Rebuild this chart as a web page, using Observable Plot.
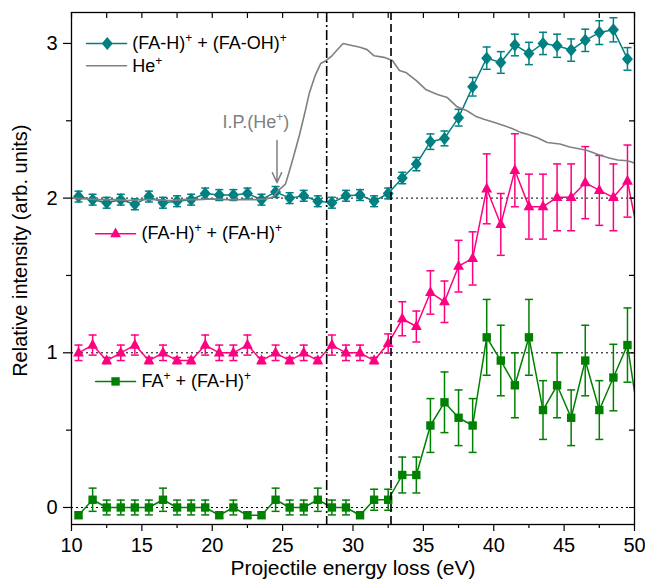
<!DOCTYPE html>
<html><head><meta charset="utf-8">
<script src="https://cdn.jsdelivr.net/npm/d3@7"></script>
<script src="https://cdn.jsdelivr.net/npm/@observablehq/plot@0.6"></script>
<style>
body{margin:0;background:#fff;}
#chart svg{font-family:"Liberation Sans",Arial,sans-serif;}
</style></head><body><div id="chart"></div>
<script>
// ---------- data ----------
const energy = [10.5, 11.5, 12.5, 13.5, 14.5, 15.5, 16.5, 17.5, 18.5, 19.5,
  20.5, 21.5, 22.5, 23.5, 24.5, 25.5, 26.5, 27.5, 28.5, 29.5,
  30.5, 31.5, 32.5, 33.5, 34.5, 35.5, 36.5, 37.5, 38.5, 39.5,
  40.5, 41.5, 42.5, 43.5, 44.5, 45.5, 46.5, 47.5, 48.5, 49.5, 50.5];

const faH_faOH = [2.01, 1.99, 1.97, 1.99, 1.96, 2.01, 1.97, 1.98, 1.99, 2.03,
  2.02, 2.02, 2.03, 1.99, 2.04, 2.0, 2.015, 1.98, 1.97, 2.015,
  2.02, 1.98, 2.03, 2.13, 2.22, 2.365, 2.386, 2.52, 2.72, 2.905,
  2.877, 2.99, 2.935, 3.0, 2.985, 2.957, 3.02, 3.07, 3.088, 2.9, null];
const faH_faOH_err = [0.035, 0.035, 0.035, 0.035, 0.035, 0.035, 0.035, 0.035, 0.035, 0.035,
  0.035, 0.035, 0.035, 0.035, 0.035, 0.035, 0.035, 0.035, 0.035, 0.035,
  0.035, 0.035, 0.035, 0.037, 0.043, 0.05, 0.048, 0.054, 0.06, 0.072,
  0.07, 0.07, 0.072, 0.072, 0.075, 0.072, 0.072, 0.077, 0.078, 0.073, null];

const faH_faH = [1.0, 1.05, 0.95, 1.0, 1.05, 0.95, 1.0, 0.95, 0.95, 1.05,
  1.0, 1.0, 1.05, 0.95, 1.0, 0.95, 1.0, 0.95, 1.05, 1.0,
  1.0, 0.95, 1.06, 1.22, 1.17, 1.39, 1.33, 1.56, 1.61, 2.06,
  1.83, 2.18, 1.945, 1.945, 2.005, 2.005, 2.10, 2.05, 2.005, 2.11, 1.65];
const faH_faH_err = [0.05, 0.065, 0.02, 0.05, 0.065, 0.02, 0.05, 0.02, 0.02, 0.065,
  0.05, 0.05, 0.065, 0.02, 0.05, 0.02, 0.05, 0.02, 0.065, 0.05,
  0.05, 0.02, 0.062, 0.11, 0.1, 0.14, 0.134, 0.167, 0.172, 0.226,
  0.2, 0.236, 0.21, 0.21, 0.216, 0.216, 0.233, 0.226, 0.216, 0.233, 0.2];

const fa_faH = [-0.05, 0.05, 0, 0, 0, 0, 0.05, 0, 0, 0,
  -0.05, 0, -0.05, -0.05, 0.05, 0, 0, 0.05, 0, 0,
  -0.05, 0.05, 0.05, 0.21, 0.21, 0.53, 0.68, 0.58, 0.53, 1.1,
  0.95, 0.79, 1.1, 0.63, 0.79, 0.58, 0.95, 0.63, 0.84, 1.05, 0.45];
const fa_faH_err = [0.02, 0.075, 0.048, 0.048, 0.048, 0.048, 0.075, 0.048, 0.048, 0.048,
  0.02, 0.048, 0.02, 0.02, 0.075, 0.048, 0.048, 0.075, 0.048, 0.048,
  0.02, 0.068, 0.068, 0.116, 0.116, 0.174, 0.196, 0.18, 0.174, 0.245,
  0.228, 0.21, 0.245, 0.19, 0.21, 0.18, 0.228, 0.19, 0.215, 0.24, 0.16];

const heEnergy = [10.0, 11.0, 12.0, 13.0, 14.0, 15.0, 16.0, 17.0, 18.0, 19.0, 20.0, 21.0, 22.0, 23.0,
  23.8, 24.3, 24.7, 25.2, 25.5, 25.9, 26.2, 26.6, 26.9, 27.3, 27.7, 28.1, 28.5, 29.0, 29.3, 30.0,
  30.5, 31.0, 31.5, 32.2, 32.8, 33.3, 33.8, 34.5, 35.2, 36.0, 36.7, 37.4, 38.1, 38.7, 39.3,
  40.0, 40.7, 41.3, 41.9, 42.5, 43.1, 43.8, 44.7, 45.4, 46.6, 47.6, 48.2, 48.8, 49.5, 50.0];
const heSignal = [2.0, 1.995, 1.99, 1.99, 1.985, 1.99, 1.99, 1.985, 1.99, 1.99, 1.995, 1.99, 1.99, 1.99,
  1.995, 2.005, 2.05, 2.09, 2.18, 2.31, 2.41, 2.56, 2.68, 2.79, 2.87, 2.89, 2.92, 2.97, 3.0, 2.985,
  2.975, 2.96, 2.92, 2.91, 2.89, 2.825, 2.81, 2.76, 2.70, 2.67, 2.65, 2.59, 2.565, 2.53, 2.51,
  2.49, 2.47, 2.45, 2.425, 2.41, 2.39, 2.36, 2.35, 2.33, 2.31, 2.275, 2.26, 2.246, 2.242, 2.227];

const seriesLabels = ["(FA-H)^+ + (FA-OH)^+", "He^+", "(FA-H)^+ + (FA-H)^+", "FA^+ + (FA-H)^+"];
const baselines = [0, 1, 2];
const thresholds = [28.13, 32.7];
const ipEnergy = 24.6;
const ipLabel = "I.P.(He^+)";
const xTicks = [10, 15, 20, 25, 30, 35, 40, 45, 50];
const xMinorTicks = [12.5, 17.5, 22.5, 27.5, 32.5, 37.5, 42.5, 47.5];
const yTicks = [0, 1, 2, 3];
const yMinorTicks = [0.5, 1.5, 2.5];
const xTitle = "Projectile energy loss (eV)";
const yTitle = "Relative intensity (arb. units)";

// ---------- styles ----------
const TEAL = "#008080", PINK = "#ff0080", GREEN = "#008000", GRAY = "#808080";

const rows = (vals, errs) => energy.map((x, i) => ({x, y: vals[i], e: errs[i]})).filter(d => d.y != null);
const tealRows = rows(faH_faOH, faH_faOH_err);
const pinkRows = rows(faH_faH, faH_faH_err);
const greenRows = rows(fa_faH, fa_faH_err);
const heRows = heEnergy.map((x, i) => ({x, y: heSignal[i]}));

const capSym = {draw(c) { c.moveTo(-4, 0); c.lineTo(4, 0); }};
const diamondSym = {draw(c) { c.moveTo(0, -6.5); c.lineTo(5.5, 0); c.lineTo(0, 6.5); c.lineTo(-5.5, 0); c.closePath(); }};
const triSym = {draw(c) { c.moveTo(0, -6.3); c.lineTo(5.4, 3.6); c.lineTo(-5.4, 3.6); c.closePath(); }};
const squareSym = {draw(c) { c.rect(-4.2, -4.2, 8.4, 8.4); }};
const plainTick = {draw(c, l) { c.moveTo(0, 0); c.lineTo(0, -l); }};

function seriesMarks(data, color, sym) {
  return [
    Plot.ruleX(data, {x: "x", y1: d => d.y - d.e, y2: d => d.y + d.e, stroke: color, strokeWidth: 1.5, clip: true}),
    Plot.dot(data, {x: "x", y: d => d.y - d.e, symbol: capSym, stroke: color, fill: "none", strokeWidth: 1.5, clip: true}),
    Plot.dot(data, {x: "x", y: d => d.y + d.e, symbol: capSym, stroke: color, fill: "none", strokeWidth: 1.5, clip: true}),
    Plot.line(data, {x: "x", y: "y", stroke: color, strokeWidth: 1.5, clip: true}),
    Plot.dot(data, {x: "x", y: "y", symbol: sym, fill: color, stroke: "none", clip: true})
  ];
}

function legendEntry(label, color, sym, x1, x2, xm, xt, y) {
  const m = [
    Plot.line([[x1, y], [x2, y]], {stroke: color, strokeWidth: 1.5}),
    Plot.text([label], {x: xt, y: y, text: d => d, textAnchor: "start", fontSize: 18, fill: "black"})
  ];
  if (sym) m.push(Plot.dot([[xm, y]], {symbol: sym, fill: color, stroke: "none"}));
  return m;
}

const chart = Plot.plot({
  width: 645, height: 582,
  marginLeft: 71, marginRight: 11, marginTop: 12, marginBottom: 58,
  style: {fontSize: "20px", fontFamily: '"Liberation Sans", Arial, sans-serif', color: "black", background: "white"},
  x: {domain: [10, 50]},
  y: {domain: [-0.11, 3.2]},
  marks: [
    Plot.ruleY(baselines, {stroke: "black", strokeWidth: 1, strokeDasharray: "2,3"}),
    ...seriesMarks(greenRows, GREEN, squareSym),
    ...seriesMarks(pinkRows, PINK, triSym),
    ...seriesMarks(tealRows, TEAL, diamondSym),
    Plot.line(heRows, {x: "x", y: "y", stroke: GRAY, strokeWidth: 1.6, clip: true}),
    Plot.ruleX([thresholds[0]], {stroke: "black", strokeWidth: 1.6, strokeDasharray: "10,3,2,3"}),
    Plot.ruleX([thresholds[1]], {stroke: "black", strokeWidth: 1.6, strokeDasharray: "8,4"}),
    // legend
    ...legendEntry(seriesLabels[0], TEAL, diamondSym, 11.07, 13.91, 12.54, 14.31, 3.0),
    ...legendEntry(seriesLabels[1], GRAY, null, 11.07, 13.91, 12.54, 14.31, 2.855),
    ...legendEntry(seriesLabels[2], PINK, triSym, 11.71, 14.55, 13.13, 14.97, 1.77),
    ...legendEntry(seriesLabels[3], GREEN, squareSym, 11.71, 14.55, 13.13, 14.97, 0.815),
    // annotation
    Plot.text([ipLabel], {x: 20.73, y: 2.49, text: d => d, textAnchor: "start", fontSize: 18, fill: GRAY}),
    Plot.arrow([ipEnergy], {x1: d => d, x2: d => d, y1: 2.372, y2: 2.1, stroke: GRAY, strokeWidth: 1.5, headLength: 11, headAngle: 50}),
    // frame & axes
    Plot.frame({stroke: "black", strokeWidth: 1.3}),
    Plot.axisX({ticks: xTicks, tickSize: 7, tickPadding: 6, tickFormat: d => String(d), label: null, strokeWidth: 1.2}),
    Plot.axisX({ticks: xMinorTicks, tickSize: 4, tickFormat: () => "", label: null, strokeWidth: 1.2}),
    Plot.axisY({ticks: yTicks, tickSize: 8, tickPadding: 6, tickFormat: d => String(d), label: null, strokeWidth: 1.2}),
    Plot.axisY({ticks: yMinorTicks, tickSize: 5, tickFormat: () => "", label: null, strokeWidth: 1.2}),
    Plot.vector(xTicks.concat(xMinorTicks), {x: d => d, frameAnchor: "top", length: 5, rotate: 180, anchor: "start", shape: plainTick, stroke: "black", strokeWidth: 1.2}),
    Plot.vector(yTicks.concat(yMinorTicks), {y: d => d, frameAnchor: "right", length: 5, rotate: 270, anchor: "start", shape: plainTick, stroke: "black", strokeWidth: 1.2}),
    Plot.text([xTitle], {frameAnchor: "bottom", dy: 44, text: d => d, fontSize: 21, fill: "black", textAnchor: "middle", lineAnchor: "middle"}),
    Plot.text([yTitle], {frameAnchor: "left", y: 1.66, dx: -51, rotate: -90, text: d => d, fontSize: 20, fill: "black", textAnchor: "middle", lineAnchor: "middle"})
  ]
});

// superscripts: "^+" -> raised small plus
const NS = "http://www.w3.org/2000/svg";
chart.querySelectorAll("text").forEach(t => {
  const s = t.textContent;
  if (!s.includes("^+")) return;
  while (t.firstChild) t.removeChild(t.firstChild);
  let raised = false;
  s.split(/(\^\+)/).forEach(part => {
    if (!part) return;
    const ts = document.createElementNS(NS, "tspan");
    if (part === "^+") {
      ts.textContent = "+";
      ts.setAttribute("font-size", "12");
      ts.setAttribute("dy", "-7");
      raised = true;
    } else {
      ts.textContent = part;
      if (raised) { ts.setAttribute("dy", "7"); raised = false; }
    }
    t.appendChild(ts);
  });
});

document.getElementById("chart").appendChild(chart);
</script></body></html>
